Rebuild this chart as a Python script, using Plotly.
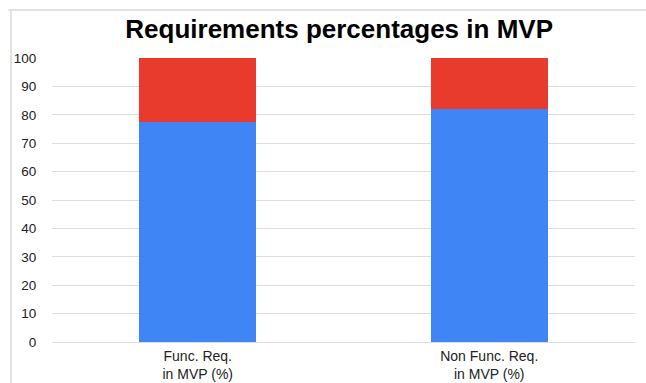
import plotly.graph_objects as go

# Share of requirements included in the MVP, per requirement type
categories = ["Func. Req.<br>in MVP (%)", "Non Func. Req.<br>in MVP (%)"]
in_mvp = [77.3, 82.0]
not_in_mvp = [22.7, 18.0]
y_ticks = [0, 10, 20, 30, 40, 50, 60, 70, 80, 90, 100]

fig = go.Figure()
fig.add_trace(go.Bar(x=categories, y=in_mvp, name="In MVP",
                     marker=dict(color="#4085f6", line=dict(width=0))))
fig.add_trace(go.Bar(x=categories, y=not_in_mvp, name="Not in MVP",
                     marker=dict(color="#e93b2d", line=dict(width=0))))

# Light frame along the top and left edges
frame = "#d9d9d9"
fig.add_shape(type="line", xref="paper", yref="paper",
              x0=-0.075, x1=1.03, y0=1.169, y1=1.169,
              line=dict(color=frame, width=1.5))
fig.add_shape(type="line", xref="paper", yref="paper",
              x0=-0.0703, x1=-0.0703, y0=1.169, y1=-0.2,
              line=dict(color=frame, width=1.5))

fig.update_layout(
    width=646, height=383,
    barmode="stack", bargap=0.6,
    showlegend=False,
    paper_bgcolor="white", plot_bgcolor="white",
    margin=dict(l=52, r=11, t=58, b=41),
    font=dict(family="Liberation Sans, Arial, sans-serif", color="#222222", size=13),
    title=dict(text="<b>Requirements percentages in MVP</b>",
               x=0.525, xanchor="center", y=0.925, yanchor="middle",
               font=dict(size=26, color="#000000")),
)
fig.update_xaxes(showgrid=False, showline=False, zeroline=False,
                 automargin=False,
                 ticks="outside", ticklen=1, tickcolor="rgba(0,0,0,0)",
                 tickfont=dict(size=14, color="#222222"))
fig.update_yaxes(range=[0, 100], tickvals=y_ticks, showgrid=True,
                 gridcolor="#dddddd", gridwidth=1,
                 zeroline=True, zerolinecolor="#dddddd", zerolinewidth=1,
                 showline=False, automargin=False,
                 ticks="outside", ticklen=12, tickcolor="rgba(0,0,0,0)",
                 tickfont=dict(size=13.5, color="#222222"))

fig.write_html("out.html")
